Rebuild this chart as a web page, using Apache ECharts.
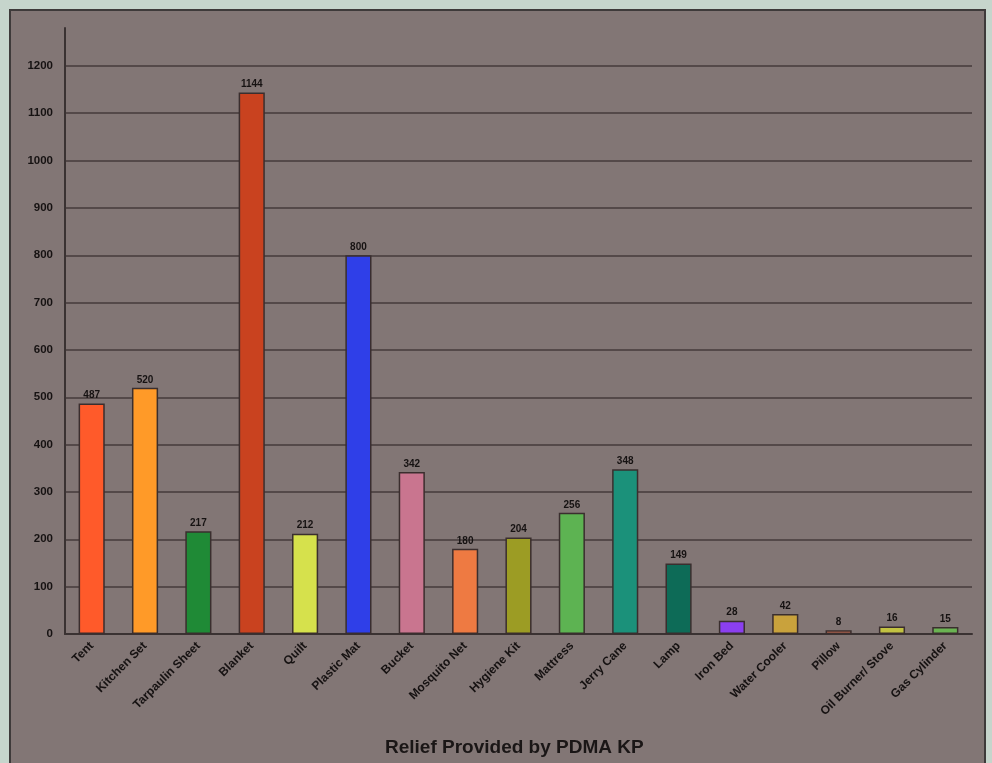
<!DOCTYPE html>
<html>
<head>
<meta charset="utf-8">
<script src="https://cdn.jsdelivr.net/npm/echarts@6/dist/echarts.min.js"></script>
<style>
  html, body { margin: 0; padding: 0; width: 992px; height: 763px; background: #c6d5cc; overflow: hidden; }
  #panel { position: absolute; left: 9px; top: 9px; width: 977px; height: 770px; background: #827675; border: 2px solid #3e3a3a; box-sizing: border-box; }
  #chart { position: absolute; left: 0; top: 0; width: 992px; height: 763px; }
</style>
</head>
<body>
<div id="panel"></div>
<div id="chart"></div>
<script>
const categories = ["Tent", "Kitchen Set", "Tarpaulin Sheet", "Blanket", "Quilt", "Plastic Mat", "Bucket", "Mosquito Net", "Hygiene Kit", "Mattress", "Jerry Cane", "Lamp", "Iron Bed", "Water Cooler", "Pillow", "Oil Burner/ Stove", "Gas Cylinder"];
const values = [487, 520, 217, 1144, 212, 800, 342, 180, 204, 256, 348, 149, 28, 42, 8, 16, 15];
const barColors = ["#ff5a2a", "#ff9a28", "#1f8a36", "#c9421f", "#d6e14c", "#2f3fe8", "#c9758f", "#ee7a42", "#9c9c24", "#5db352", "#1b917a", "#0d6b57", "#8b3ff0", "#c9a23c", "#e27b5c", "#c2c242", "#6ab352"];
const yTicks = [0, 100, 200, 300, 400, 500, 600, 700, 800, 900, 1000, 1100, 1200];
const titleText = "Relief Provided by PDMA KP";

const chart = echarts.init(document.getElementById('chart'), null, { renderer: 'canvas' });
const font = '"Liberation Sans", Arial, sans-serif';
chart.setOption({
  backgroundColor: 'transparent',
  animation: false,
  title: {
    text: titleText,
    left: 380,
    top: 733,
    textStyle: { fontFamily: font, fontSize: 19, fontWeight: 'bold', color: '#1a1616' }
  },
  grid: { left: 65, right: 20, top: 28, bottom: 129, containLabel: false },
  xAxis: {
    type: 'category',
    data: categories,
    axisLine: { show: true, lineStyle: { color: '#3a3232', width: 2 } },
    axisTick: { show: false },
    axisLabel: {
      interval: 0,
      rotate: 45,
      margin: 10,
      fontFamily: font, fontSize: 12, fontWeight: 'bold', color: '#161212'
    }
  },
  yAxis: {
    type: 'value',
    min: 0,
    max: 1280,
    interval: 100,
    axisLine: { show: true, lineStyle: { color: '#3a3232', width: 2 } },
    axisTick: { show: false },
    axisLabel: {
      showMaxLabel: false,
      margin: 12,
      fontFamily: font, fontSize: 11.5, fontWeight: 'bold', color: '#161212',
      formatter: v => (yTicks.indexOf(v) >= 0 ? String(v) : '')
    },
    splitLine: { show: true, showMaxLine: false, lineStyle: { color: '#453b3b', width: 1.5 } }
  },
  series: [{
    type: 'bar',
    data: values.map((v, i) => ({ value: v, itemStyle: { color: barColors[i] } })),
    barWidth: '49%',
    itemStyle: { borderColor: '#3a2e2e', borderWidth: 1.5 },
    label: {
      show: true,
      position: 'top',
      distance: 3,
      fontFamily: font, fontSize: 10, fontWeight: 'bold', color: '#161212'
    }
  }]
});
</script>
</body>
</html>
